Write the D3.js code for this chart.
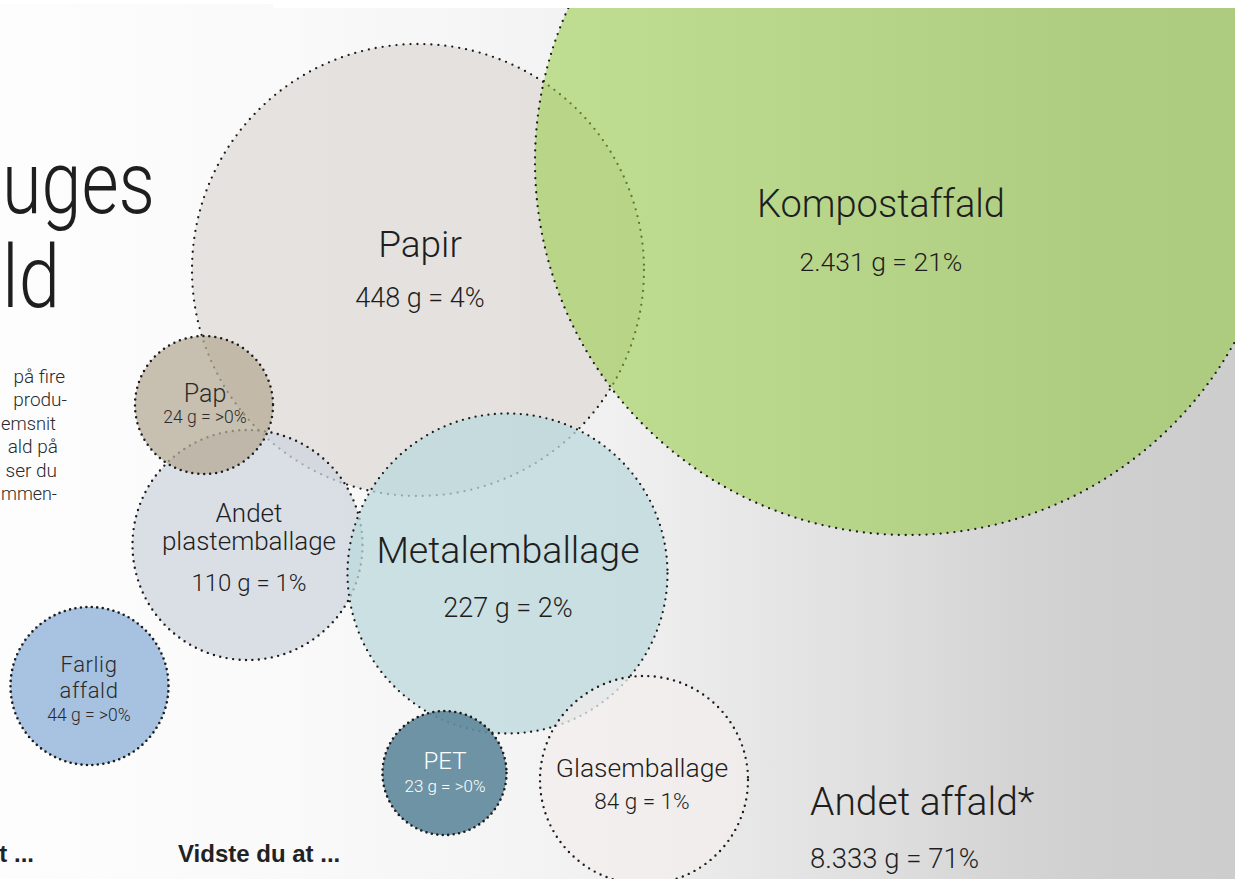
<!DOCTYPE html>
<html>
<head>
<meta charset="utf-8">
<script src="https://cdn.jsdelivr.net/npm/d3@7"></script>
<style>
html,body{margin:0;padding:0;background:#fff;overflow:hidden}
svg{display:block}
</style>
</head>
<body>
<svg id="chart" width="1235" height="879"></svg>
<script>
// ---------- DATA ----------
const categories = ["Kompostaffald", "Papir", "Pap", "Andet plastemballage", "Metalemballage", "PET", "Glasemballage", "Farlig affald", "Andet affald*"];
const grams      = [2431, 448, 24, 110, 227, 23, 84, 44, 8333];
const shares     = ["21%", "4%", ">0%", "1%", "2%", ">0%", "1%", ">0%", "71%"];

// visible text fragments of the page around the chart (cut by the crop)
const titleFragments = ["uges", "ld"];
const bodyFragments  = ["på fire", "produ-", "emsnit", "ald på", "ser du", "mmen-"];
const footFragments  = ["t ...", "Vidste du at ..."];

// ---------- LAYOUT (design grid, not data) ----------
const W = 1235, H = 879;
const layout = {
  "Kompostaffald":        {z:1, cx:908,   cy:162,   r:373, fill:"#93cb3e", op:0.54, lx:881, ny:[217], ns:38,   vy:271, vs:26.5, ink:"#1e1e1e", gap:7,   dw:2.3},
  "Papir":                {z:0, cx:418,   cy:270,   r:226, fill:"#ddd9d7", op:0.75, lx:420, ny:[257], ns:37,   vy:307, vs:27,   ink:"#1e1e1e", gap:7,   dw:2.3},
  "Andet plastemballage": {z:2, cx:247.5, cy:545,   r:115, fill:"#cfd6df", op:0.75, lx:249, ny:[522,550], ns:26, vy:591, vs:24,   ink:"#1e1e1e", gap:6.5, dw:2.4},
  "Pap":                  {z:3, cx:204,   cy:405,   r:69,  fill:"#b6ab96", op:0.75, lx:205, ny:[402], ns:25,   vy:423, vs:17.5, ink:"#2a2a2a", gap:6,   dw:2.5},
  "Metalemballage":       {z:4, cx:507.5, cy:573.5, r:160, fill:"#bbd8dc", op:0.75, lx:508, ny:[563], ns:37.5, vy:617, vs:27,   ink:"#1e1e1e", gap:6.5, dw:2.3},
  "PET":                  {z:5, cx:444.5, cy:773,   r:62,  fill:"#628a9c", op:0.92, lx:445, ny:[769], ns:24,   vy:792, vs:17,   ink:"#ffffff", gap:5.5, dw:2.6},
  "Glasemballage":        {z:6, cx:644,   cy:780,   r:104, fill:"#f1edec", op:0.75, lx:642, ny:[777], ns:26.5, vy:809, vs:22.5, ink:"#1e1e1e", gap:6.5, dw:2.4},
  "Farlig affald":        {z:7, cx:89.5,  cy:686,   r:79,  fill:"#89afd7", op:0.75, lx:89,  ny:[672,698], ns:22, vy:721, vs:17.5, ink:"#2a2a2a", gap:5.5, dw:2.6, ls:0.6},
  "Andet affald*":        {z:-1, lx:810, anchor:"start", ny:[815], ns:39, vy:868, vs:27.5, ink:"#1e1e1e"}
};

// ---------- SCALES ----------
const x = d3.scaleLinear().domain([0, 1235]).range([0, W]);
const y = d3.scaleLinear().domain([0, 879]).range([0, H]);
const rs = d3.scaleLinear().domain([0, 1235]).range([0, W]);

const da = d3.formatLocale({decimal: ",", thousands: ".", grouping: [3], currency: ["", " kr."]});
const fmt = da.format(",d");

const data = categories.map((c, i) => ({
  name: c, g: grams[i], share: shares[i], L: layout[c],
  lines: layout[c].ny.length > 1 ? c.split(" ") : [c],
  value: fmt(grams[i]) + " g = " + shares[i]
}));

const svg = d3.select("#chart");
const FONT = "Roboto, 'Liberation Sans', Arial, sans-serif";

// background gradient (the "Andet affald" field)
const defs = svg.append("defs");
const grad = defs.append("linearGradient").attr("id", "bg").attr("x1", 0).attr("x2", 1).attr("y1", 0).attr("y2", 0);
[[0, "#fdfdfd"], [0.07, "#fcfcfc"], [0.25, "#f9f9f9"], [0.4, "#f5f5f5"], [0.5, "#f0f0f0"], [0.62, "#e6e6e6"],
 [0.72, "#dedede"], [0.82, "#d4d4d4"], [0.9, "#cfcfcf"], [1, "#cdcdcd"]]
  .forEach(([o, c]) => grad.append("stop").attr("offset", o).attr("stop-color", c));

svg.append("rect").attr("x", 0).attr("y", 0).attr("width", W).attr("height", H).attr("fill", "url(#bg)");

// bubbles
const bubbles = data.filter(d => d.L.z >= 0).sort((a, b) => a.L.z - b.L.z);
svg.append("g").selectAll("circle").data(bubbles).join("circle")
  .attr("cx", d => x(d.L.cx))
  .attr("cy", d => y(d.L.cy))
  .attr("r", d => rs(d.L.r))
  .attr("fill", d => d.L.fill)
  .attr("fill-opacity", d => d.L.op)
  .attr("stroke", "#1c1c1c")
  .attr("stroke-width", d => d.L.dw)
  .attr("stroke-linecap", "round")
  .attr("stroke-dasharray", d => "0 " + d.L.gap);

// labels
const lab = svg.append("g").attr("font-family", FONT).attr("font-weight", 300);
data.forEach(d => {
  const g = lab.append("g").attr("fill", d.L.ink).attr("text-anchor", d.L.anchor || "middle");
  d.lines.forEach((t, i) => {
    g.append("text").attr("x", x(d.L.lx)).attr("y", y(d.L.ny[i]))
      .attr("font-size", d.L.ns).attr("letter-spacing", d.L.ls || 0).text(t);
  });
  g.append("text").attr("x", x(d.L.lx)).attr("y", y(d.L.vy))
    .attr("font-size", d.L.vs).text(d.value);
});

// cropped page text on the left
const side = svg.append("g").attr("fill", "#1e1e1e");
const titleStart = [2, 2], titleLen = [153, 58], titleBase = [213, 307];
side.selectAll("text.title").data(titleFragments).join("text").attr("class", "title")
  .attr("x", (d, i) => titleStart[i]).attr("y", (d, i) => titleBase[i])
  .attr("font-family", FONT).attr("font-weight", 300)
  .attr("font-size", 88)
  .attr("textLength", (d, i) => titleLen[i]).attr("lengthAdjust", "spacingAndGlyphs")
  .text(d => d);

const bodyEnds = [65, 67, 56, 58, 57, 57];
side.selectAll("text.body").data(bodyFragments).join("text").attr("class", "body")
  .attr("x", (d, i) => bodyEnds[i]).attr("y", (d, i) => 383 + i * 23.4)
  .attr("text-anchor", "end")
  .attr("font-family", FONT).attr("font-weight", 300).attr("fill", "#2a2a2a")
  .attr("font-size", 19).text(d => d)
  .each(function(d, i) {
    const len = this.getComputedTextLength();
    if (len > bodyEnds[i] - 1) {
      d3.select(this).attr("textLength", bodyEnds[i] - 1).attr("lengthAdjust", "spacingAndGlyphs");
    }
  });

svg.append("text").attr("x", 34).attr("y", 862).attr("text-anchor", "end")
  .attr("font-family", "'Liberation Sans', Arial, sans-serif").attr("font-weight", 700)
  .attr("font-size", 24).attr("fill", "#222").text(footFragments[0]);
svg.append("text").attr("x", 178).attr("y", 862).attr("text-anchor", "start")
  .attr("font-family", "'Liberation Sans', Arial, sans-serif").attr("font-weight", 700)
  .attr("font-size", 24).attr("fill", "#222").text(footFragments[1]);

// white page margin at top
svg.append("rect").attr("x", 0).attr("y", 0).attr("width", 273).attr("height", 4).attr("fill", "#ffffff");
svg.append("rect").attr("x", 273).attr("y", 0).attr("width", W - 273).attr("height", 8).attr("fill", "#ffffff");
</script>
</body>
</html>
